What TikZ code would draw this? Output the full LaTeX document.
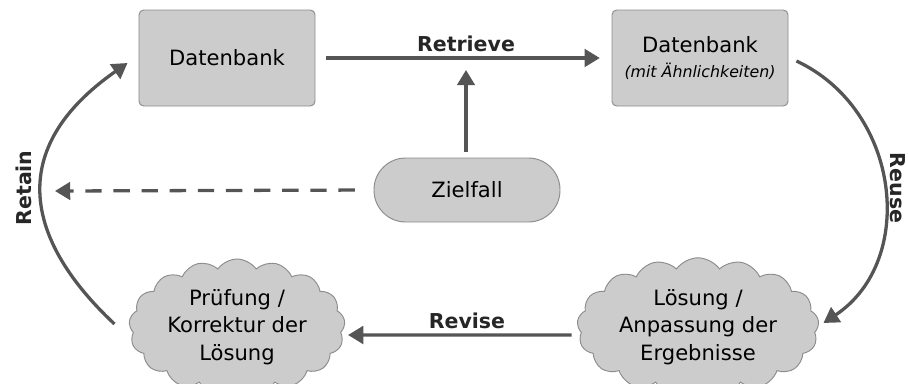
\documentclass[tikz,border=0pt]{standalone}
\usepackage{fontspec}
\setmainfont{DejaVu Sans}
\usetikzlibrary{arrows.meta,positioning,shapes.symbols,calc}

\definecolor{boxgray}{HTML}{CCCCCC}
\definecolor{edgegray}{HTML}{8C8C8C}
\definecolor{arrowgray}{HTML}{555555}

\tikzset{
  txt/.style={font=\fontsize{18}{23.6}\selectfont, align=center, text=black},
  dbbox/.style={txt, draw=edgegray, fill=boxgray, line width=0.8pt, rounded corners=4pt,
    minimum width=5.28cm, minimum height=2.88cm},
  goalbox/.style={txt, draw=edgegray, fill=boxgray, line width=0.8pt, rounded corners=0.95cm,
    minimum width=5.58cm, minimum height=1.92cm},
  cloudbox/.style={txt, cloud, cloud puffs=17, cloud puff arc=110, cloud ignores aspect,
    draw=edgegray, fill=boxgray, line width=0.8pt, minimum width=6.2cm, minimum height=3.8cm},
  flow/.style={draw=arrowgray, line width=2.8pt, -{Triangle[length=13pt,width=15pt]}},
  steplabel/.style={font=\fontsize{17.5}{21}\selectfont\bfseries, text=black!85}
}

\begin{document}
\begin{tikzpicture}[x=0.03cm, y=-0.03cm]
  \useasboundingbox (0,0) rectangle (908,383);
  % boxes
  \node[dbbox] (db) at (227,58) {Datenbank};
  \node[dbbox] (dbsim) at (700,58) {Datenbank\\[-2pt]{\fontsize{13.5}{16}\selectfont\itshape (mit Ähnlichkeiten)}};
  \node[goalbox] (goal) at (467,190) {Zielfall};
  \node[cloudbox] (check) at (237,327) {Prüfung /\\Korrektur der\\Lösung};
  \node[cloudbox] (sol) at (698,327) {Lösung /\\Anpassung der\\Ergebnisse};
  \coordinate (rtip) at (466,70);
  \coordinate (dtip) at (55,191);
  % connectors
  \draw[flow, shorten <=9pt, shorten >=10pt] (db.east) -- (dbsim.west);
  \draw[flow, shorten <=5pt] (goal.north -| rtip) -- (rtip);
  \draw[flow, dash pattern=on 14pt off 10pt, shorten <=16pt] (goal.west) -- (dtip);
  \draw[flow, shorten <=5pt, shorten >=3pt] ($(sol.west)+(0,8)$) -- ($(check.east)+(0,8)$);
  \draw[flow] ($(check.west)+(-15,-3)$) .. controls (27,242) and (3,150) .. ($(db.west)+(-11,5)$);
  \draw[flow] ($(dbsim.east)+(8,3)$) .. controls (901,110) and (917,261) .. ($(sol.east)+(5,-4)$);
  % labels
  \node[steplabel] (lretrieve) at (466,44) {Retrieve};
  \node[steplabel] (lrevise) at (467,321) {Revise};
  \node[steplabel, rotate=90] (lretain) at (24,188) {Retain};
  \node[steplabel, rotate=-90] (lreuse) at (898,188) {Reuse};
\end{tikzpicture}
\end{document}
